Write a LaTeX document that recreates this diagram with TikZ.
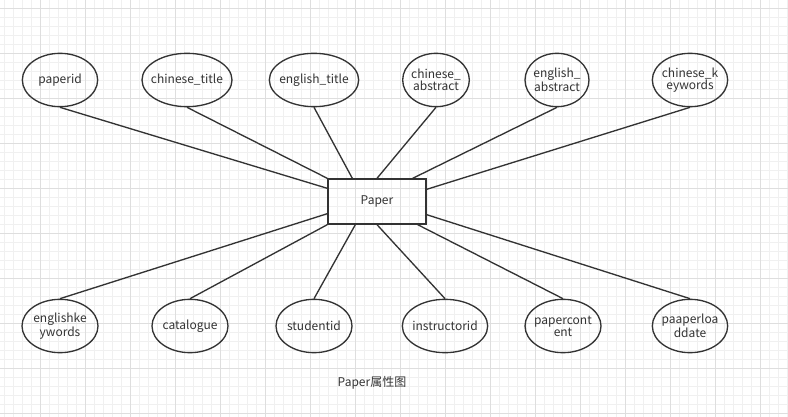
\documentclass[tikz,border=0pt]{standalone}
\usepackage{fontspec}
\setmainfont{Noto Sans CJK SC}
\usetikzlibrary{shapes.geometric,calc}
\definecolor{ink}{HTML}{333333}
\definecolor{gridmajor}{HTML}{DEDEDE}
\definecolor{gridminor}{HTML}{F0F0F0}
\begin{document}
\begin{tikzpicture}[x=0.75pt,y=-0.75pt,
  attr/.style={ellipse, draw=ink, line width=1pt, minimum width=#1, minimum height=40pt,
    inner sep=0pt},
  attr/.default=57pt,
  attrtext/.style={align=center, text=ink, inner sep=0pt, font=\fontsize{9}{9}\selectfont},
  entity/.style={rectangle, draw=ink, line width=1pt, minimum width=73.5pt, minimum height=33.75pt,
    inner sep=0pt, text=ink, font=\fontsize{9}{9}\selectfont},
  link/.style={draw=ink, line width=1pt},
  minorline/.style={draw=gridminor, line width=0.6pt},
  majorline/.style={draw=gridmajor, line width=0.6pt},
  caption/.style={text=ink, font=\fontsize{9}{9}\selectfont}]
\useasboundingbox (0,0) rectangle (788,417);
\fill[white] (0,0) rectangle (788,417);
\foreach \x in {4,13,...,787} \draw[minorline] (\x,0) -- (\x,417);
\foreach \y in {8,17,...,416} \draw[minorline] (0,\y) -- (788,\y);
\foreach \x in {40,85,...,787} \draw[majorline] (\x,0) -- (\x,417);
\foreach \y in {8,53,...,416} \draw[majorline] (0,\y) -- (788,\y);

\node[entity] (paper) at (377,201.5) {Paper};

\node[attr=56.5pt, label={[attrtext]center:paperid}] (paperid) at (60,80) {};
\node[attr=67.5pt, label={[attrtext]center:chinese\_title}] (ctitle) at (187,80) {};
\node[attr=67pt, label={[attrtext]center:english\_title}] (etitle) at (314,80) {};
\node[attr=50pt, label={[attrtext]center:chinese\_\\abstract}] (cabs) at (436,80) {};
\node[attr=48pt, label={[attrtext]center:english\_\\abstract}] (eabs) at (557,80) {};
\node[attr=56.5pt, label={[attrtext]center:chinese\_k\\eywords}] (ckey) at (690,80) {};

\node[attr=57pt, label={[attrtext]center:englishke\\ywords}] (ekey) at (60,326) {};
\node[attr=57pt, label={[attrtext]center:catalogue}] (catalogue) at (190,326) {};
\node[attr=57pt, label={[attrtext]center:studentid}] (studentid) at (314,326) {};
\node[attr=64pt, label={[attrtext]center:instructorid}] (instructorid) at (445,326) {};
\node[attr=57pt, label={[attrtext]center:papercont\\ent}] (pcontent) at (563,326) {};
\node[attr=56.5pt, label={[attrtext]center:paaperloa\\ddate}] (pload) at (690,326) {};

\node[caption] (cap) at (372,383) {Paper属性图};

\draw[link] (paperid.south) -- ($(paper.north west)+(0,10)$);
\draw[link] (ctitle.south) -- (paper.north west);
\draw[link] (etitle.south) -- ($(paper.north west)+(25,0)$);
\draw[link] (cabs.south) -- (paper.north);
\draw[link] (eabs.south) -- ($(paper.north east)+(-14,0)$);
\draw[link] (ckey.south) -- ($(paper.north east)+(0,11)$);
\draw[link] (ekey.north) -- ($(paper.south west)+(0,-11)$);
\draw[link] (catalogue.north) -- (paper.south west);
\draw[link] (studentid.north) -- ($(paper.south west)+(28,0)$);
\draw[link] (instructorid.north) -- (paper.south);
\draw[link] (pcontent.north) -- ($(paper.south east)+(-9,0)$);
\draw[link] (pload.north) -- ($(paper.south east)+(0,-10)$);
\end{tikzpicture}
\end{document}
